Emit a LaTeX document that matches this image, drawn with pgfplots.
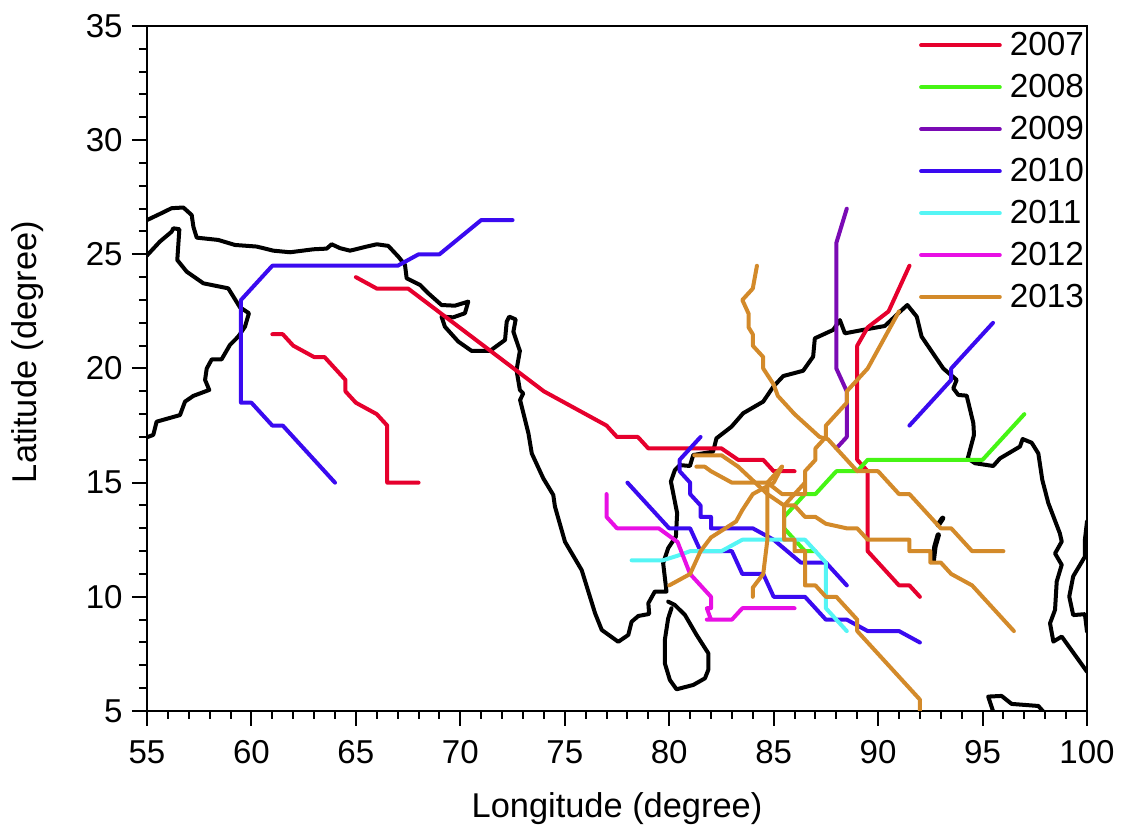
\documentclass[border=0pt]{standalone}
\usepackage{fontspec}
\setmainfont{Liberation Sans}
\usepackage{pgfplots}
\pgfplotsset{compat=1.18}
\definecolor{cy07}{RGB}{230,0,45}
\definecolor{cy08}{RGB}{70,245,20}
\definecolor{cy09}{RGB}{122,10,180}
\definecolor{cy10}{RGB}{58,10,240}
\definecolor{cy11}{RGB}{85,245,245}
\definecolor{cy12}{RGB}{232,15,228}
\definecolor{cy13}{RGB}{211,138,42}
\begin{document}
\begin{tikzpicture}
\path[use as bounding box] (0,0) rectangle (841.5pt,622.5pt);
\begin{axis}[
  at={(110.25pt,89.25pt)}, anchor=south west,
  scale only axis, width=705pt, height=513.75pt,
  xmin=55, xmax=100, ymin=5, ymax=35,
  xtick={55,60,...,100}, ytick={5,10,...,35},
  minor x tick num=4, minor y tick num=4,
  xtick pos=bottom, ytick pos=left, tick align=outside,
  major tick length=11.25pt, minor tick length=6pt,
  axis line style={line width=1.5pt},
  every tick/.style={black, line width=1.5pt},
  /pgf/number format/assume math mode=true,
  tick label style={font=\fontsize{24.8}{24.8}\selectfont},
  xticklabel style={yshift=-7.5pt},
  yticklabel style={xshift=-3.5pt},
  every axis x label/.style={at={(axis description cs:0.5,-0.142)},anchor=center,font=\fontsize{25.8}{25.8}\selectfont},
  every axis y label/.style={at={(axis description cs:-0.1266,0.524)},anchor=center,rotate=90,font=\fontsize{25.8}{25.8}\selectfont},
  xlabel={Longitude (degree)}, ylabel={Latitude (degree)},
  legend cell align=left,
  legend image code/.code={\draw[#1] (0pt,0pt) -- (59pt,0pt);},
  legend style={at={(axis cs:91.95,34.72)}, anchor=north west, draw=none, fill=none,
    inner sep=0pt, row sep=12.5pt,
    font=\fontsize{25}{25}\selectfont,
    nodes={inner sep=0pt},
    /tikz/column 1/.style={column sep=6pt}},
  every axis plot/.append style={line join=round, line cap=round, no markers, line width=3pt},
]
% ---- coastlines
\addplot[black,forget plot,line width=3pt] coordinates {
(55,26.5)(55.62,26.77)(56.18,27.02)(56.74,27.05)(57.14,26.72)(57.22,26.21)(57.38,25.73)(58.41,25.63)(59.21,25.41)(60.25,25.34)(61.05,25.16)(61.85,25.09)(62.96,25.22)(63.6,25.25)(63.84,25.44)(64.24,25.27)(64.72,25.16)(65.52,25.34)(66,25.44)(66.55,25.37)(67.03,24.9)(67.35,24.54)(67.43,23.95)(68.07,23.66)(68.47,23.29)(69.1,22.78)(69.74,22.75)(70.38,22.93)(70.22,22.42)(69.66,22.24)(69.1,22.27)(69.26,21.83)(69.9,21.18)(70.54,20.77)(71.42,20.77)(72.14,21.25)(72.22,22.05)(72.34,22.27)(72.65,22.15)(72.54,21.61)(72.85,20.77)(72.69,19.93)(72.85,19.06)(73.01,18.91)(72.86,18.62)(73.26,17.16)(73.42,16.28)(73.97,15.19)(74.45,14.46)(74.53,13.95)(75.01,12.41)(75.81,11.17)(76.45,9.28)(76.77,8.55)(77.56,8.03)(78.04,8.33)(78.2,8.91)(78.52,9.16)(79.04,9.25)(79,9.72)(79.31,10.23)(79.87,10.23)(79.71,11.47)(79.95,12.13)(80.32,12.64)(80.38,13.66)(80.19,14.54)(80.08,15.05)(80.27,15.55)(80.51,15.77)(80.99,15.73)(81.15,16.21)(82.1,16.36)(82.26,16.94)(82.98,17.45)(83.54,18.04)(84.5,18.55)(84.98,19.2)(85.46,19.67)(86.41,19.9)(86.89,20.52)(86.97,21.32)(87.85,21.69)(88.17,22.12)(88.41,21.54)(89.45,21.72)(90.32,21.86)(90.88,22.34)(91.05,22.49)(91.4,22.78)(91.85,22.27)(92.08,21.4)(93.12,20)(93.76,19.5)(93.6,19.13)(93.84,18.84)(94.24,18.81)(94.56,17.6)(94.59,17.09)(94.29,16.06)(94.64,15.85)(95.51,15.73)(95.83,16.06)(96.79,16.58)(96.92,16.91)(97.35,16.75)(97.67,16.28)(97.86,15.12)(98.15,14.1)(98.7,12.78)(98.79,12.42)(98.47,11.9)(98.79,11.4)(98.55,10.67)(98.47,9.43)(98.23,8.84)(98.39,8.04)(98.79,8.26)(100,6.72)
};
\addplot[black,forget plot,line width=3pt] coordinates {
(55,24.95)(55.62,25.56)(56.18,25.99)(56.26,26.14)(56.55,26.1)(56.45,24.75)(56.9,24.24)(57.7,23.73)(58.89,23.51)(59.45,22.68)(59.88,22.42)(59.69,21.83)(59.37,21.4)(58.97,21.03)(58.57,20.4)(58.1,20.4)(57.86,20)(57.78,19.5)(57.98,19.06)(57.22,18.8)(56.82,18.55)(56.58,17.96)(55.46,17.67)(55.3,17.09)(55,16.99)
};
\addplot[black,forget plot,line width=3pt] coordinates {
(79.95,9.79)(80.27,9.64)(80.75,9.21)(81.31,8.33)(81.87,7.53)(81.87,6.8)(81.71,6.43)(81.15,6.14)(80.35,5.95)(80.03,6.36)(79.79,7.09)(79.79,8.11)(79.95,9.06)(80.11,9.5)
};
\addplot[black,forget plot,line width=3pt] coordinates {
(100,13.3)(99.9,12.5)(99.9,11.76)(99.34,10.9)(99.15,10.01)(99.34,9.2)(99.9,9.24)(100,8.48)
};
\addplot[black,forget plot,line width=3pt] coordinates {
(95.51,4.97)(95.27,5.63)(95.91,5.66)(96.39,5.31)(97.67,5.22)(97.91,4.97)
};
\addplot[black,forget plot,line width=4pt] coordinates {(92.88,12.71)(92.72,12.2)(92.64,11.6)};
\addplot[black,forget plot,line width=4pt] coordinates {(93.09,13.44)(92.88,13.15)};
% ---- 2007
\addplot[cy07] coordinates {(68,15)(66.5,15)(66.5,17.5)(66,18)(65,18.5)(64.5,19)(64.5,19.5)(63.5,20.5)(63,20.5)(62,21)(61.5,21.5)(61,21.5)};
\addlegendentry{2007}
\addplot[cy07,forget plot] coordinates {(65,24)(66,23.5)(67.5,23.5)(74,19)(77,17.5)(77.5,17)(78.5,17)(79,16.5)(82.5,16.5)(83.3,16)(84.5,16)(85,15.5)(86,15.5)};
\addplot[cy07,forget plot] coordinates {(91.5,24.5)(90.5,22.5)(89.5,21.8)(89,21)(89,16)(89.5,15.5)(89.5,12)(91,10.5)(91.5,10.5)(92,10)};
% ---- 2008
\addplot[cy08] coordinates {(97,18)(95,16)(89.5,16)(89,15.5)(88,15.5)(87,14.5)(86.5,14.5)(86,14)(85.5,13.5)(85.5,13)(86.5,12)(87,12)};
\addlegendentry{2008}
% ---- 2009
\addplot[cy09] coordinates {(88.5,27)(88,25.5)(88,20)(88.5,19)(88.5,17)(88,16.5)};
\addlegendentry{2009}
% ---- 2010
\addplot[cy10] coordinates {(64,15)(61.5,17.5)(61,17.5)(60,18.5)(59.5,18.5)(59.5,23)(61,24.5)(67,24.5)(68,25)(69,25)(71,26.5)(72.5,26.5)};
\addlegendentry{2010}
\addplot[cy10,forget plot] coordinates {(78,15)(80,13)(81,13)(81.5,12)(83,12)(83.5,11)(84.5,11)(85,10)(86.5,10)(87.5,9)(88.5,9)(89.5,8.5)(91,8.5)(92,8)};
\addplot[cy10,forget plot] coordinates {(81.5,17)(80.5,16)(80.5,15.5)(81,15)(81,14.5)(81.5,14)(81.5,13.5)(82,13.5)(82,13)(84,13)(85,12.5)(86.3,11.5)(87.5,11.5)(88.5,10.5)};
\addplot[cy10,forget plot] coordinates {(91.5,17.5)(93.5,19.5)(93.5,20)(95.5,22)};
% ---- 2011
\addplot[cy11] coordinates {(78.2,11.6)(79.7,11.6)(80.4,11.8)(81,12)(82.5,12)(83.5,12.5)(86.5,12.5)(87.5,11.5)(87.5,9.5)(88.5,8.5)};
\addlegendentry{2011}
% ---- 2012
\addplot[cy12] coordinates {(77,14.5)(77,13.5)(77.5,13)(79.5,13)(80.4,12.4)(81,11)(82,10)(82,9.5)(81.8,9.5)(82,9)(81.8,9)(83,9)(83.5,9.5)(86,9.5)};
\addlegendentry{2012}
% ---- 2013
\addplot[cy13] coordinates {(84.2,24.5)(84,23.5)(83.5,23)(83.8,22.4)(83.8,21.8)(84,21.5)(84,21)(84.5,20.5)(84.5,20)(85,19.3)(85.2,18.8)(86,18)(87.2,17)(87.6,16.9)(89,15.5)(90,15.5)(91,14.5)(91.5,14.5)(92.5,13.5)(93,13)(93.5,13)(94.5,12)(96,12)};
\addlegendentry{2013}
\addplot[cy13,forget plot] coordinates {(91,22.5)(89.5,20)(88.5,19)(88.5,18.5)(87.5,17.5)(87.5,17)(87,16.5)(87,16)(86.5,15.5)(86.5,15)(85.5,14)(85.5,12.5)(86,12.5)(86,12)(86.5,12)(86.5,10.5)(87,10.5)(87.5,10)(88,10)(89,9)(89,8.5)(92,5.5)(92,5)};
\addplot[cy13,forget plot] coordinates {(80,10.5)(81,11)(81.5,12)(82,12.6)(83.2,13.3)(83.5,13.8)(84,14.5)(85,15)(85.4,15.7)};
\addplot[cy13,forget plot] coordinates {(84,10)(84,10.4)(84.5,11)(84.7,12.5)(84.7,15)(85.4,15.7)};
\addplot[cy13,forget plot] coordinates {(81.2,16.2)(82.5,16.2)(83.3,15.7)(84.7,14.5)(85.5,14)(86,14)(86.5,13.5)(87,13.5)(87.5,13.2)(88.5,13)(89,13)(89.5,12.5)(91.5,12.5)(91.5,12)(92.5,12)(92.5,11.5)(93,11.5)(93.5,11)(94.5,10.5)(96.5,8.5)};
\addplot[cy13,forget plot] coordinates {(81.3,15.7)(81.7,15.7)(82,15.5)(83,15)(84.7,15)(85.4,14.5)(86.5,14.5)(86.5,15)};
\end{axis}
\end{tikzpicture}
\end{document}
